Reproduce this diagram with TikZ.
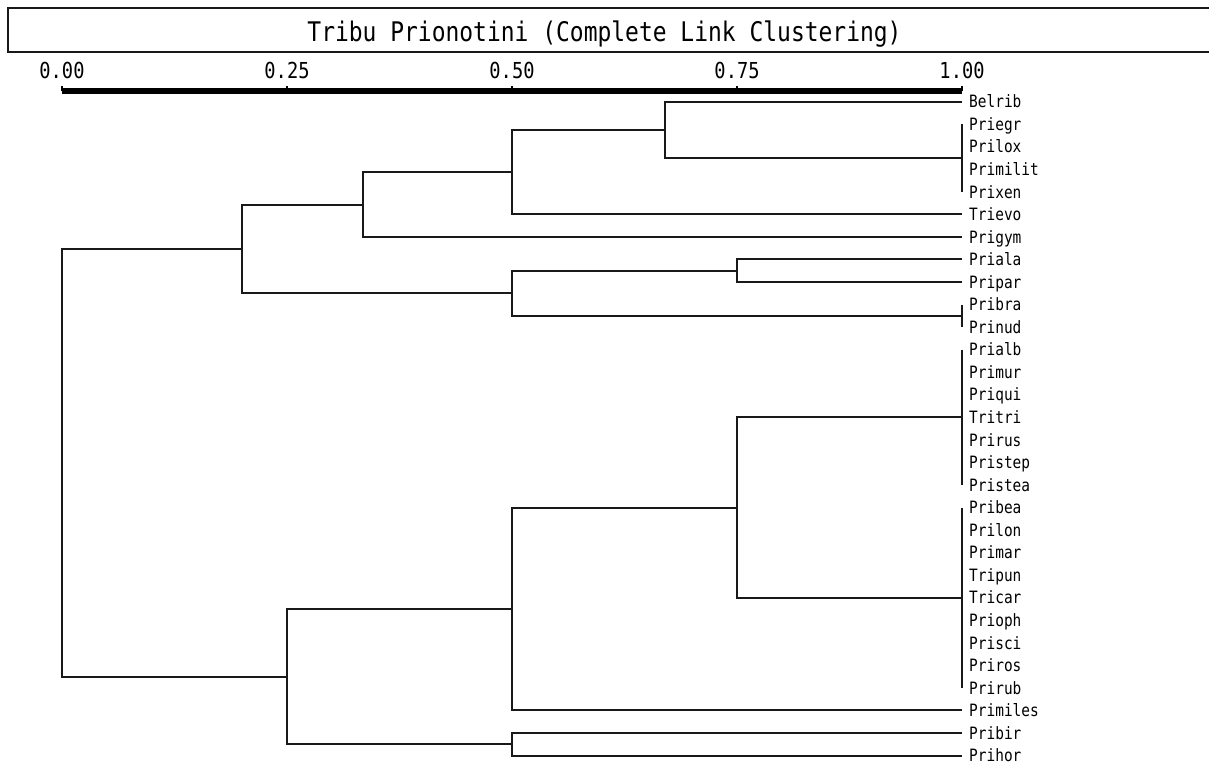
\documentclass[tikz,border=0pt]{standalone}
\usepackage{fontspec}
\newfontfamily\dendfont[FakeStretch=0.85]{DejaVu Sans Mono}
\usepackage{tikz}
\usetikzlibrary{calc}

\begin{document}
\begin{tikzpicture}[x=1pt, y=-1pt,
  link/.style={line width=2pt, black!90},
  leaf/.style={anchor=base west, inner sep=0pt, text depth=0pt, font=\dendfont\fontsize{17}{17}\selectfont},
  ticklab/.style={anchor=base, inner sep=0pt, font=\dendfont\fontsize{22}{22}\selectfont},
  heading/.style={anchor=base, inner sep=0pt, font=\dendfont\fontsize{27}{27}\selectfont},
]
  \useasboundingbox (0,0) rectangle (1209,765);

  % title frame, open on the right
  \draw[line width=2pt, black!90] (1209,8) -- (8,8) -- (8,52) -- (1209,52);
  \node[heading] (title) at (604.5,42) {Tribu Prionotini (Complete Link Clustering)};

  % scale
  \foreach \lab [count=\i from 0] in {0.00,0.25,0.50,0.75,1.00} {
    \coordinate (s\i) at ({62+225*\i},91);
    \draw[line width=2pt] (s\i) -- ++(0,-5);
    \node[ticklab] (a\i) at ({62+225*\i},79) {\lab};
  }
  \draw[line width=6pt] (s0) -- (s4);

  % leaves
  \foreach \nm [count=\i from 0] in {Belrib,Priegr,Prilox,Primilit,Prixen,Trievo,Prigym,
      Priala,Pripar,Pribra,Prinud,Prialb,Primur,Priqui,Tritri,Prirus,Pristep,Pristea,
      Pribea,Prilon,Primar,Tripun,Tricar,Prioph,Prisci,Priros,Prirub,Primiles,Pribir,Prihor} {
    \coordinate (t\i) at (962,{101.6+22.55*\i});
    \node[leaf] (n\i) at ([xshift=7pt, yshift=-6.2pt]t\i) {\nm};
  }

  % upper cluster
  \draw[link] (t1) -- (t4);
  \coordinate (gA) at ($(t1)!0.5!(t4)$);
  \coordinate (k1) at (665,130);
  \draw[link] (t0) -| (k1) |- (gA);
  \coordinate (k2) at (512,172.2);
  \draw[link] (k1) -| (k2) |- (t5);
  \coordinate (k3) at (363,204.6);
  \draw[link] (k2) -| (k3) |- (t6);
  \coordinate (k4) at (737,270.8);
  \draw[link] (t7) -| (k4) |- (t8);
  \draw[link] (t9) -- (t10);
  \coordinate (gB) at (962,316);
  \coordinate (k5) at (512,293.4);
  \draw[link] (k4) -| (k5) |- (gB);
  \coordinate (k6) at (242,249);
  \draw[link] (k3) -| (k6) |- (k5);

  % lower cluster
  \draw[link] (t11) -- (t17);
  \draw[link] (t18) -- (t26);
  \coordinate (k7) at (737,507.5);
  \draw[link] (t14) -| (k7) |- (t22);
  \coordinate (k8) at (512,609);
  \draw[link] (k7) -| (k8) |- (t27);
  \coordinate (k9) at (512,744.4);
  \draw[link] (t28) -| (k9) |- (t29);
  \coordinate (k10) at (287,676.7);
  \draw[link] (k8) -| (k10) |- (k9);

  % root
  \coordinate (root) at (62,463);
  \draw[link] (k6) -| (root) |- (k10);
\end{tikzpicture}
\end{document}
